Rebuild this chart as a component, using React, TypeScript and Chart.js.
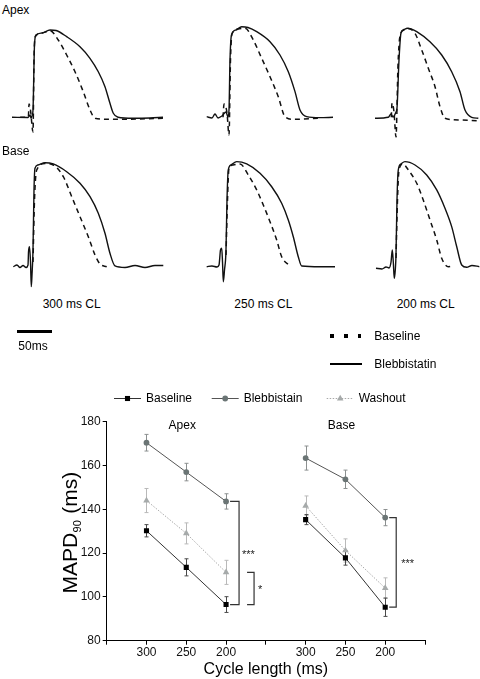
import React, { useEffect, useRef } from 'react';
import { Chart, registerables } from 'chart.js';

Chart.register(...registerables);

const FONT = '"Liberation Sans", Arial, Helvetica, sans-serif';
Chart.defaults.font.family = FONT;

// ================= TOP: action potential traces (time in ms, amplitude in % of peak) =================
const PX_PER_MS = 0.712;
const SCALE_BAR_MS = 50;
const CL_LABELS = ['300 ms CL', '250 ms CL', '200 ms CL'];
const ROW_LABELS = ['Apex', 'Base'];
const TRACE_LEGEND = ['Baseline', 'Blebbistatin'];

type Pt = [number, number];

const APEX_300_BLEB: Pt[] = [[-29.5,0],[-7,-0.2],[-4.2,2.6],[-2.8,-0.8],[-1.4,1.5],[0,8.2],[2.1,81.2],[4.2,92.5],[12.6,94.7],[23.9,98.1],[32.3,97.5],[47.3,90.6],[66,79.3],[80,66.3],[91.7,51.2],[101.1,34.4],[108.1,15.7],[112.8,4.5],[119.4,0],[140.4,-1.1],[164.3,-0.8],[182.6,0]];
const APEX_300_BASE: Pt[] = [[-18,0],[-6.5,0.3],[-5.6,14.9],[-3.5,8],[0,-16.5],[1.4,64.4],[2.8,90.2],[12.6,94.7],[23.9,97.3],[35.5,86.9],[47.3,70],[59,51.2],[70.6,28.8],[80.1,8.2],[87.1,-1.1],[103.5,-2.2],[150.3,-1.9],[182.6,-1.1]];
const APEX_250_BLEB: Pt[] = [[-31.3,0.7],[-23.9,-0.8],[-19.7,3.7],[-15.4,-0.8],[-9.8,1.5],[-4.2,6],[-1.4,0.3],[0,8.2],[1.4,64.4],[3.5,92.5],[9.8,98.1],[17.8,101.8],[26.7,100.9],[38.9,96.2],[57.6,84.9],[71.6,70],[83.3,51.2],[92.7,28.8],[99.7,8.2],[109.1,0.7],[127.8,-0.4],[146.1,0]];
const APEX_250_BASE: Pt[] = [[-8.4,0],[-7,14.9],[-2.8,4.8],[0,-19.9],[2.1,64.4],[4.2,93.6],[12.6,99.2],[22.5,100],[34.1,86.9],[45.9,66.3],[57.6,45.6],[69.2,23.1],[78.7,0.7],[90.3,-2.2],[127.8,-1.1]];
const APEX_200_BLEB: Pt[] = [[-30.9,-1.1],[-12.2,0],[-8.4,3.7],[-5.6,0.3],[-1.4,6],[0,10.4],[2.8,64.4],[5.6,94.7],[9.8,98.7],[14.5,100],[19.7,99.2],[27.7,96.2],[46.3,84.9],[62.8,70],[76.8,51.2],[88.5,28.8],[95.5,8.2],[104.9,0],[114.2,-1.1]];
const APEX_200_BASE: Pt[] = [[-8,0],[-7,16.1],[-4.2,6],[-1.4,-22.1],[1.4,58.8],[4.2,91.3],[9.8,98.1],[15.4,99.8],[25.3,94.4],[34.7,75.6],[44,55.1],[53.4,34.4],[60.4,11.9],[67.4,-1.1],[88.5,-3],[111.9,-3.8]];
const BASE_300_BLEB: Pt[] = [[-27.7,0],[-22.5,1.6],[-18.3,-0.8],[-14,1.2],[-9.8,-0.8],[-7,1.6],[-6.3,14.1],[-4.9,19.2],[-3.5,4.5],[-2.4,-19.2],[-1.4,-8],[0,16.1],[1.4,73.8],[2.8,94.6],[7,97.8],[16.9,100],[28.5,98.8],[47.3,91.3],[66,80.2],[80.1,67.3],[91.7,51.3],[101.1,32.1],[108.1,12.9],[115.2,0.7],[129.2,-0.8],[143.3,1.2],[157.3,-0.8],[171.3,1.2],[183,1.2]];
const BASE_300_BASE: Pt[] = [[0,4.5],[2.1,64.1],[5.2,93],[16.9,99.2],[28.5,97.8],[42.6,86.5],[54.4,67.3],[66,48.1],[77.7,28.8],[87.1,11.3],[94.1,2.6],[103.5,0]];
const BASE_250_BLEB: Pt[] = [[-27.1,0],[-19.7,0.7],[-12.6,-0.3],[-9.8,1.6],[-7.7,16.1],[-6,17.7],[-4.9,4.5],[-3.8,-14.4],[-2.1,-3.2],[0,16.1],[1.4,64.1],[3.2,93],[7,97.8],[15,101],[29.1,98.8],[47.8,89.8],[64.2,76.9],[78.2,61],[87.5,44.9],[94.5,28.8],[101.5,9.6],[106.3,0.7],[132,0],[153.1,0]];
const BASE_250_BASE: Pt[] = [[0,11.3],[2.1,64.1],[4.2,94.9],[9.8,97.8],[19.7,98.8],[31.3,88.2],[43.1,73.8],[52.4,59.3],[61.8,43.3],[71.2,25.7],[78.2,9.6],[89.9,0.7]];
const BASE_200_BLEB: Pt[] = [[-28.1,-1.5],[-19.7,-2.2],[-14,-0.3],[-9.8,-1.2],[-7,4.5],[-5.2,16.1],[-3.8,4.5],[-2.4,-11.2],[-1,-3.2],[0,11.3],[1.4,64.1],[3.2,93],[7,98.8],[12.6,101],[26.7,97.8],[43.1,88.2],[57.2,73.8],[68.8,56.2],[78.2,38.5],[85.3,19.2],[92.3,1.6],[99.3,-0.6],[106.7,1.2],[117,0]];
const BASE_200_BASE: Pt[] = [[0,8.4],[2.1,64.1],[4.2,93],[9.8,98.8],[17.3,93],[29.1,80.2],[38.3,64.1],[47.8,44.9],[57.2,25.7],[64.2,8.1],[73.5,0],[80.6,0.7]];

// ================= BOTTOM: MAPD90 vs cycle length =================
const X_TICK_LABELS = ['', '300', '250', '200', '', '300', '250', '200', ''];
const REGIONS = ['Apex', 'Base'];
const SERIES_NAMES = ['Baseline', 'Blebbistain', 'Washout'];

const APEX_BASELINE = [130.2, 113.5, 96.5];
const APEX_BASELINE_ERR = [2.8, 3.9, 3.6];
const APEX_BLEBB = [170.4, 157.0, 143.6];
const APEX_BLEBB_ERR = [3.8, 4.0, 3.5];
const APEX_WASHOUT = [144.0, 129.0, 111.2];
const APEX_WASHOUT_ERR = [5.5, 4.8, 5.5];

const BASE_BASELINE = [135.3, 117.8, 95.3];
const BASE_BASELINE_ERR = [2.3, 3.3, 4.2];
const BASE_BLEBB = [163.4, 153.7, 136.2];
const BASE_BLEBB_ERR = [5.5, 4.2, 3.7];
const BASE_WASHOUT = [141.6, 121.2, 104.0];
const BASE_WASHOUT_ERR = [4.5, 5.3, 4.7];

const Y_MIN = 80;
const Y_MAX = 180;
const Y_STEP = 20;

// ---------------- styles ----------------
const STYLES = [
  { line: '#333333', marker: '#000000', err: '#4a4a4a', style: 'rect', radius: 3.6, dash: [] as number[] },
  { line: '#555555', marker: '#6b7575', err: '#8c9090', style: 'circle', radius: 2.9, dash: [] as number[] },
  { line: '#a8a8a8', marker: '#a6aaaa', err: '#b9b9b9', style: 'triangle', radius: 3.8, dash: [1.5, 1.5] },
];

function drawMarker(ctx: CanvasRenderingContext2D, kind: string, x: number, y: number, r: number, color: string) {
  ctx.save();
  ctx.fillStyle = color;
  ctx.beginPath();
  if (kind === 'rect') {
    const s = r * Math.SQRT1_2;
    ctx.rect(x - s, y - s, 2 * s, 2 * s);
  } else if (kind === 'circle') {
    ctx.arc(x, y, r, 0, Math.PI * 2);
  } else {
    let a = 0;
    ctx.moveTo(x + Math.sin(a) * r, y - Math.cos(a) * r);
    a += (2 * Math.PI) / 3;
    ctx.lineTo(x + Math.sin(a) * r, y - Math.cos(a) * r);
    a += (2 * Math.PI) / 3;
    ctx.lineTo(x + Math.sin(a) * r, y - Math.cos(a) * r);
    ctx.closePath();
  }
  ctx.fill();
  ctx.restore();
}

const errorBarPlugin = {
  id: 'errorBars',
  beforeDatasetsDraw(chart: any) {
    const { ctx } = chart;
    const y = chart.scales.y;
    chart.data.datasets.forEach((ds: any, i: number) => {
      const meta = chart.getDatasetMeta(i);
      ctx.save();
      ctx.strokeStyle = ds.errColor;
      ctx.lineWidth = 1;
      meta.data.forEach((pt: any, j: number) => {
        const v = ds.data[j].y;
        const e = ds.errors[j];
        const yt = y.getPixelForValue(v + e);
        const yb = y.getPixelForValue(v - e);
        const x = Math.round(pt.x) + 0.5;
        ctx.beginPath();
        ctx.moveTo(x, yt); ctx.lineTo(x, yb);
        ctx.moveTo(x - 2, yt); ctx.lineTo(x + 2, yt);
        ctx.moveTo(x - 2, yb); ctx.lineTo(x + 2, yb);
        ctx.stroke();
      });
      ctx.restore();
    });
  },
};

// brackets: [regionIndex, seriesTop, seriesBottom, label, offset, arm, labelGap]
const BRACKETS: [number, number, number, string, number, number, number][] = [
  [0, 1, 0, '***', 4, 9, 3],
  [0, 2, 0, '*', 21, 7, 4],
  [1, 1, 0, '***', 4, 7, 5],
];

const annotationPlugin = {
  id: 'annotations',
  afterDraw(chart: any) {
    const { ctx, chartArea } = chart;
    const xs = chart.scales.x;
    const ys = chart.scales.y;
    const regionValues = [
      [APEX_BASELINE, APEX_BLEBB, APEX_WASHOUT],
      [BASE_BASELINE, BASE_BLEBB, BASE_WASHOUT],
    ];
    const last = APEX_BASELINE.length - 1;
    // brackets
    BRACKETS.forEach(([r, sTop, sBot, label, off, arm, gap]) => {
      const xp = xs.getPixelForValue(1 + r * 4 + last);
      const y1 = ys.getPixelForValue(regionValues[r][sTop][last]);
      const y2 = ys.getPixelForValue(regionValues[r][sBot][last]);
      const x1 = xp + off;
      const x2 = x1 + arm;
      ctx.save();
      ctx.strokeStyle = '#333';
      ctx.lineWidth = 1.2;
      ctx.beginPath();
      ctx.moveTo(x1, y1); ctx.lineTo(x2, y1); ctx.lineTo(x2, y2); ctx.lineTo(x1, y2);
      ctx.stroke();
      ctx.fillStyle = '#222';
      ctx.font = `11px ${FONT}`;
      ctx.textAlign = 'left';
      ctx.textBaseline = 'middle';
      ctx.fillText(label, x2 + gap, (y1 + y2) / 2 + 2);
      ctx.restore();
    });

    // region labels
    ctx.save();
    ctx.fillStyle = '#000';
    ctx.font = `12px ${FONT}`;
    ctx.textAlign = 'center';
    ctx.textBaseline = 'middle';
    REGIONS.forEach((name, r) => {
      ctx.fillText(name, xs.getPixelForValue(2 + r * 4) - 4, ys.getPixelForValue(Y_MAX) + 4);
    });
    ctx.restore();

    // legend
    const starts = [114, 211.7, 326.7];
    const ly = 18.5;
    SERIES_NAMES.forEach((name, i) => {
      const st = STYLES[i];
      const x0 = starts[i];
      ctx.save();
      ctx.strokeStyle = st.line;
      ctx.lineWidth = 1;
      ctx.setLineDash(st.dash);
      ctx.beginPath();
      ctx.moveTo(x0, ly); ctx.lineTo(x0 + 27, ly);
      ctx.stroke();
      ctx.restore();
      drawMarker(ctx, st.style, x0 + 13.5, ly, st.radius, st.marker);
      ctx.save();
      ctx.fillStyle = '#000';
      ctx.font = `12px ${FONT}`;
      ctx.textAlign = 'left';
      ctx.textBaseline = 'middle';
      ctx.fillText(name, x0 + 32, ly + 0.5);
      ctx.restore();
    });

    // x title
    ctx.save();
    ctx.fillStyle = '#000';
    ctx.font = `16px ${FONT}`;
    ctx.textAlign = 'center';
    ctx.textBaseline = 'alphabetic';
    ctx.fillText('Cycle length (ms)', (chartArea.left + chartArea.right) / 2, chartArea.bottom + 33.5);
    ctx.restore();

    // y title with subscript
    ctx.save();
    const big = `21px ${FONT}`;
    const small = `11px ${FONT}`;
    ctx.font = big;
    const w1 = ctx.measureText('MAPD').width;
    const w3 = ctx.measureText(' (ms)').width;
    ctx.font = small;
    const w2 = ctx.measureText('90').width;
    const total = w1 + w2 + w3;
    ctx.translate(76.5, (chartArea.top + chartArea.bottom) / 2 + 2);
    ctx.rotate(-Math.PI / 2);
    ctx.fillStyle = '#000';
    ctx.textAlign = 'left';
    ctx.textBaseline = 'alphabetic';
    let u = -total / 2;
    ctx.font = big;
    ctx.fillText('MAPD', u, 0);
    u += w1;
    ctx.font = small;
    ctx.fillText('90', u + 0.5, 4);
    u += w2 + 1;
    ctx.font = big;
    ctx.fillText(' (ms)', u, 0);
    ctx.restore();
  },
};

function buildDatasets() {
  const regionSets = [
    [[APEX_BASELINE, APEX_BASELINE_ERR], [APEX_BLEBB, APEX_BLEBB_ERR], [APEX_WASHOUT, APEX_WASHOUT_ERR]],
    [[BASE_BASELINE, BASE_BASELINE_ERR], [BASE_BLEBB, BASE_BLEBB_ERR], [BASE_WASHOUT, BASE_WASHOUT_ERR]],
  ];
  const out: any[] = [];
  // draw order: washout first (behind), then blebb, then baseline
  [2, 1, 0].forEach((s) => {
    regionSets.forEach((sets, r) => {
      const [vals, errs] = sets[s];
      const st = STYLES[s];
      out.push({
        label: `${REGIONS[r]} ${SERIES_NAMES[s]}`,
        data: vals.map((v, i) => ({ x: 1 + r * 4 + i, y: v })),
        errors: errs,
        errColor: st.err,
        borderColor: st.line,
        borderWidth: 1,
        borderDash: st.dash,
        pointStyle: st.style,
        pointRadius: st.radius,
        pointBackgroundColor: st.marker,
        pointBorderColor: st.marker,
        pointBorderWidth: 0,
        tension: 0,
        fill: false,
      });
    });
  });
  return out;
}

function MapdChart() {
  const ref = useRef<HTMLCanvasElement>(null);
  useEffect(() => {
    const chart = new Chart(ref.current as HTMLCanvasElement, {
      type: 'line',
      data: { datasets: buildDatasets() },
      options: {
        responsive: false,
        animation: false,
        events: [],
        layout: { padding: { left: 0, right: 55, top: 41.7, bottom: 18.3 } },
        plugins: { legend: { display: false }, tooltip: { enabled: false } },
        scales: {
          x: {
            type: 'linear',
            min: 0,
            max: X_TICK_LABELS.length - 1,
            afterBuildTicks: (s: any) => {
              s.ticks = X_TICK_LABELS.map((_, i) => ({ value: i }));
            },
            afterFit: (s: any) => { s.height = 20; },
            ticks: {
              autoSkip: false,
              maxRotation: 0,
              padding: 1,
              color: '#111',
              font: { size: 12, family: FONT },
              callback: (v: any) => X_TICK_LABELS[Math.round(Number(v))] ?? '',
            },
            grid: { drawOnChartArea: false, drawTicks: true, tickLength: 4, color: '#000', lineWidth: 1 },
            border: { display: true, color: '#000', width: 1 },
          },
          y: {
            min: Y_MIN,
            max: Y_MAX,
            afterFit: (s: any) => { s.width = 106.7; },
            ticks: { stepSize: Y_STEP, padding: 2, color: '#111', font: { size: 12, family: FONT } },
            grid: { drawOnChartArea: false, drawTicks: true, tickLength: 4, color: '#000', lineWidth: 1 },
            border: { display: true, color: '#000', width: 1 },
          },
        },
      } as any,
      plugins: [errorBarPlugin, annotationPlugin],
    });
    return () => chart.destroy();
  }, []);
  return (
    <canvas
      ref={ref}
      width={480}
      height={299}
      style={{ position: 'absolute', left: 0, top: 380, width: 480, height: 299 }}
    />
  );
}

// ---------------- trace panels ----------------
const ROWS = [
  { top: 20, height: 120, basePx: 117.3, pxPerUnit: 0.89 },
  { top: 150, height: 140, basePx: 266.7, pxPerUnit: 1.04 },
];
const COLS = [
  { left: 10, width: 160 },
  { left: 200, width: 140 },
  { left: 365, width: 115 },
];
const PANELS = [
  { row: 0, col: 0, u: 33, bleb: APEX_300_BLEB, base: APEX_300_BASE },
  { row: 0, col: 1, u: 229, bleb: APEX_250_BLEB, base: APEX_250_BASE },
  { row: 0, col: 2, u: 397, bleb: APEX_200_BLEB, base: APEX_200_BASE },
  { row: 1, col: 0, u: 33, bleb: BASE_300_BLEB, base: BASE_300_BASE },
  { row: 1, col: 1, u: 226, bleb: BASE_250_BLEB, base: BASE_250_BASE },
  { row: 1, col: 2, u: 396, bleb: BASE_200_BLEB, base: BASE_200_BASE },
];

function TracePanel({ p }: { p: typeof PANELS[number] }) {
  const ref = useRef<HTMLCanvasElement>(null);
  const row = ROWS[p.row];
  const col = COLS[p.col];
  useEffect(() => {
    const xMin = (col.left - p.u) / PX_PER_MS;
    const xMax = (col.left + col.width - p.u) / PX_PER_MS;
    const yMax = (row.basePx - row.top) / row.pxPerUnit;
    const yMin = (row.basePx - row.top - row.height) / row.pxPerUnit;
    const chart = new Chart(ref.current as HTMLCanvasElement, {
      type: 'line',
      data: {
        datasets: [
          {
            data: p.base.map(([x, y]) => ({ x, y })),
            borderColor: '#111',
            borderWidth: 1.5,
            borderDash: [5, 4],
            pointRadius: 0,
            cubicInterpolationMode: 'monotone',
            clip: false,
          },
          {
            data: p.bleb.map(([x, y]) => ({ x, y })),
            borderColor: '#111',
            borderWidth: 1.4,
            pointRadius: 0,
            cubicInterpolationMode: 'monotone',
            clip: false,
          },
        ],
      },
      options: {
        responsive: false,
        animation: false,
        events: [],
        layout: { padding: 0 },
        plugins: { legend: { display: false }, tooltip: { enabled: false } },
        scales: {
          x: { type: 'linear', display: false, min: xMin, max: xMax },
          y: { display: false, min: yMin, max: yMax },
        },
      } as any,
    });
    return () => chart.destroy();
  }, []);
  return (
    <canvas
      ref={ref}
      width={col.width}
      height={row.height}
      style={{ position: 'absolute', left: col.left, top: row.top, width: col.width, height: row.height }}
    />
  );
}

function Label({ text, left, top, size = 12 }: { text: string; left: number; top: number; size?: number }) {
  return (
    <div
      style={{
        position: 'absolute',
        left,
        top,
        fontFamily: FONT,
        fontSize: size,
        lineHeight: `${size}px`,
        color: '#000',
        whiteSpace: 'nowrap',
      }}
    >
      {text}
    </div>
  );
}

export default function App() {
  const clLefts = [42.7, 234.3, 396.7];
  return (
    <div
      style={{
        position: 'absolute',
        left: 0,
        top: 0,
        width: 480,
        height: 679,
        background: '#fff',
        overflow: 'hidden',
      }}
    >
      {PANELS.map((p, i) => (
        <TracePanel key={i} p={p} />
      ))}
      <Label text={ROW_LABELS[0]} left={2} top={4} />
      <Label text={ROW_LABELS[1]} left={2} top={144.8} />
      {CL_LABELS.map((t, i) => (
        <Label key={t} text={t} left={clLefts[i]} top={298.3} />
      ))}
      {/* scale bar */}
      <div style={{ position: 'absolute', left: 16.7, top: 330, width: SCALE_BAR_MS * PX_PER_MS, height: 3, background: '#000' }} />
      <Label text={`${SCALE_BAR_MS}ms`} left={18.3} top={339.8} />
      {/* trace legend */}
      {[330, 344.3, 357.7].map((x) => (
        <div key={x} style={{ position: 'absolute', left: x, top: 334.2, width: 3.5, height: 3.5, background: '#000' }} />
      ))}
      <Label text={TRACE_LEGEND[0]} left={374.3} top={329.8} />
      <div style={{ position: 'absolute', left: 330, top: 362.5, width: 32, height: 2.6, background: '#000' }} />
      <Label text={TRACE_LEGEND[1]} left={374.3} top={358.1} />
      <MapdChart />
    </div>
  );
}
